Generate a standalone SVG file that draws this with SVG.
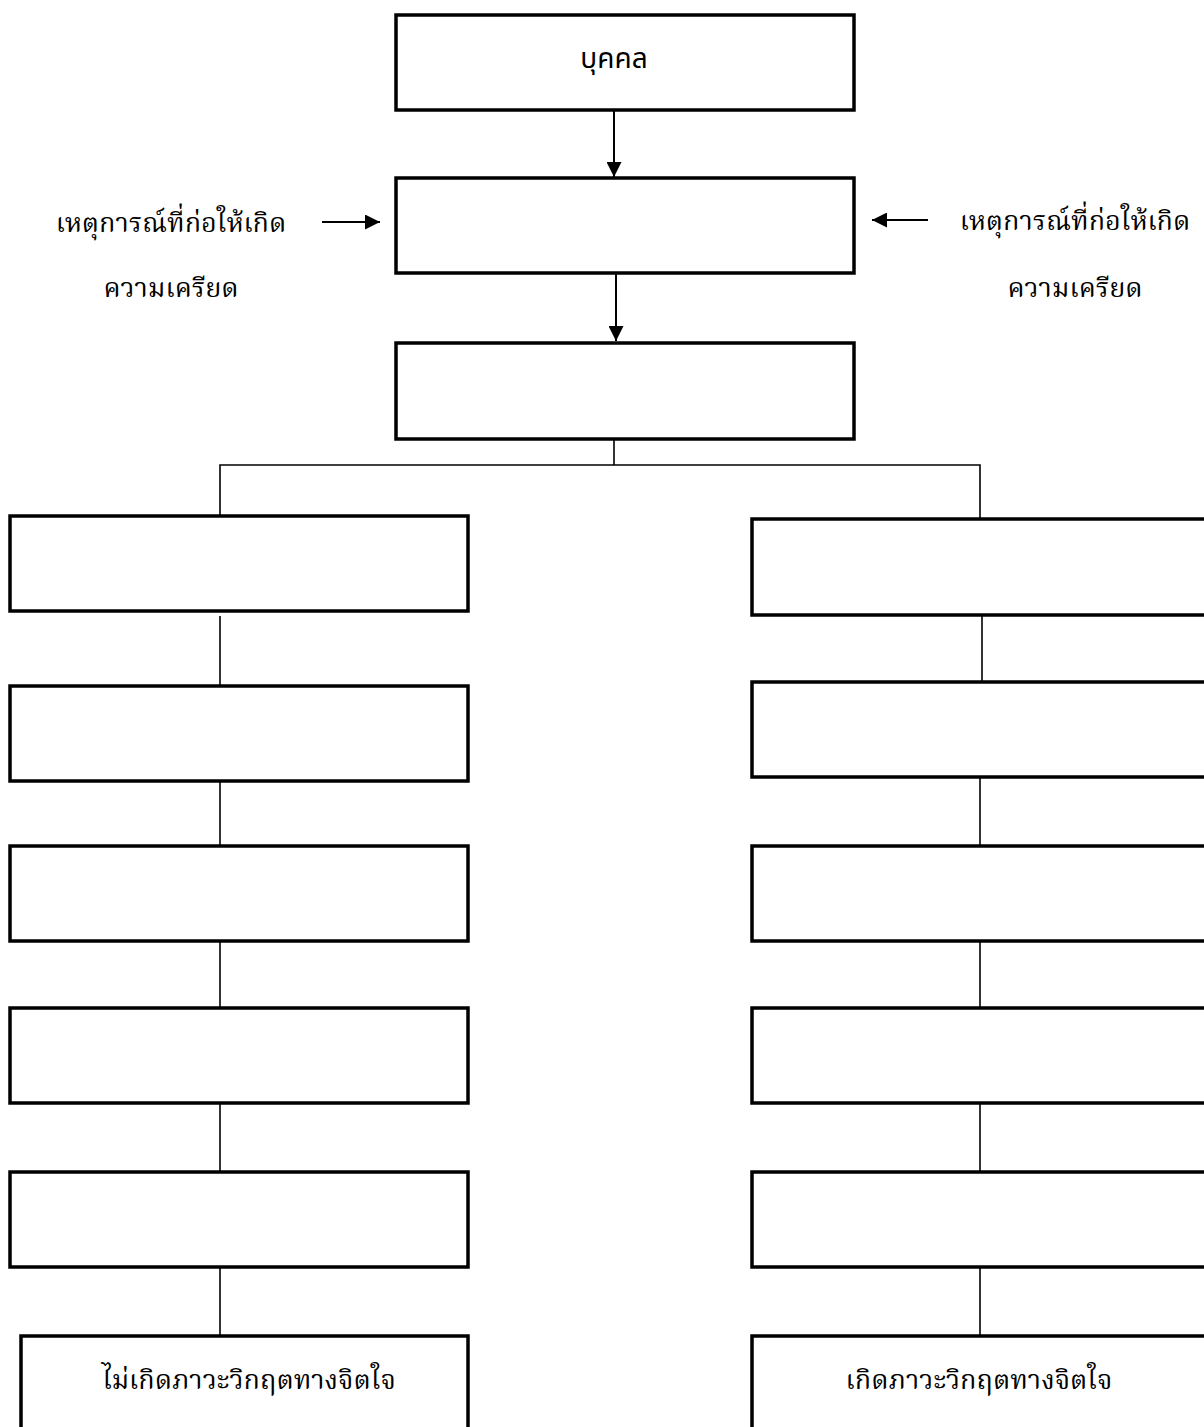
<svg xmlns="http://www.w3.org/2000/svg" width="1204" height="1427" viewBox="0 0 1204 1427">
<style>
.box{fill:#fff;stroke:#000;stroke-width:3.5}
.ln{stroke:#000;stroke-width:1.6;fill:none}
.ar{stroke:#000;stroke-width:2;fill:none}
.t{font-family:"Liberation Serif","Noto Serif Thai","Noto Sans CJK SC",serif;font-size:27px;fill:#000;text-anchor:middle}
.ts{font-family:"Noto Sans","Noto Sans Thai","DejaVu Sans",sans-serif;font-size:28px;fill:#000;text-anchor:middle}
</style>
<defs>
<marker id="ahb" viewBox="0 0 10 10" refX="10" refY="5" markerWidth="15" markerHeight="15" markerUnits="userSpaceOnUse" orient="auto">
<path d="M0,0 L10,5 L0,10 z" fill="#000"/>
</marker>
</defs>
<rect width="1204" height="1427" fill="#fff"/>
<g id="connectors">
<line class="ar" x1="614" y1="105" x2="614" y2="177" marker-end="url(#ahb)"/>
<line class="ar" x1="616" y1="266" x2="616" y2="341" marker-end="url(#ahb)"/>
<line class="ar" x1="322" y1="222" x2="380" y2="222" marker-end="url(#ahb)"/>
<line class="ar" x1="928" y1="220" x2="872" y2="220" marker-end="url(#ahb)"/>
<polyline class="ln" points="614,439 614,465"/>
<polyline class="ln" points="220,519 220,465 980,465 980,519"/>
<line class="ln" x1="220" y1="616" x2="220" y2="685"/>
<line class="ln" x1="220" y1="781" x2="220" y2="845"/>
<line class="ln" x1="220" y1="941" x2="220" y2="1007"/>
<line class="ln" x1="220" y1="1103" x2="220" y2="1171"/>
<line class="ln" x1="220" y1="1267" x2="220" y2="1336"/>
<line class="ln" x1="982" y1="612" x2="982" y2="681"/>
<line class="ln" x1="980" y1="777" x2="980" y2="845"/>
<line class="ln" x1="980" y1="941" x2="980" y2="1007"/>
<line class="ln" x1="980" y1="1103" x2="980" y2="1171"/>
<line class="ln" x1="980" y1="1267" x2="980" y2="1335"/>
</g>
<g id="n-person"><rect class="box" x="396" y="15" width="458" height="95"/><text class="ts" x="614" y="68">บุคคล</text></g>
<g id="n-box2"><rect class="box" x="396" y="178" width="458" height="95"/></g>
<g id="n-box3"><rect class="box" x="396" y="343" width="458" height="96"/></g>
<g id="n-left-label"><text class="t" x="171" y="232">เหตุการณ์ที่ก่อให้เกิด</text><text class="t" x="171" y="297">ความเครียด</text></g>
<g id="n-right-label"><text class="t" x="1075" y="230">เหตุการณ์ที่ก่อให้เกิด</text><text class="t" x="1075" y="297">ความเครียด</text></g>
<g id="n-l1"><rect class="box" x="10" y="516" width="458" height="95"/></g>
<g id="n-l2"><rect class="box" x="10" y="686" width="458" height="95"/></g>
<g id="n-l3"><rect class="box" x="10" y="846" width="458" height="95"/></g>
<g id="n-l4"><rect class="box" x="10" y="1008" width="458" height="95"/></g>
<g id="n-l5"><rect class="box" x="10" y="1172" width="458" height="95"/></g>
<g id="n-l6"><rect class="box" x="21" y="1336" width="447" height="120"/><text class="t" x="249" y="1389">ไม่เกิดภาวะวิกฤตทางจิตใจ</text></g>
<g id="n-r1"><rect class="box" x="752" y="519" width="470" height="96"/></g>
<g id="n-r2"><rect class="box" x="752" y="682" width="470" height="95"/></g>
<g id="n-r3"><rect class="box" x="752" y="846" width="470" height="95"/></g>
<g id="n-r4"><rect class="box" x="752" y="1008" width="470" height="95"/></g>
<g id="n-r5"><rect class="box" x="752" y="1172" width="470" height="95"/></g>
<g id="n-r6"><rect class="box" x="752" y="1336" width="470" height="120"/><text class="t" x="979" y="1389">เกิดภาวะวิกฤตทางจิตใจ</text></g>
</svg>
